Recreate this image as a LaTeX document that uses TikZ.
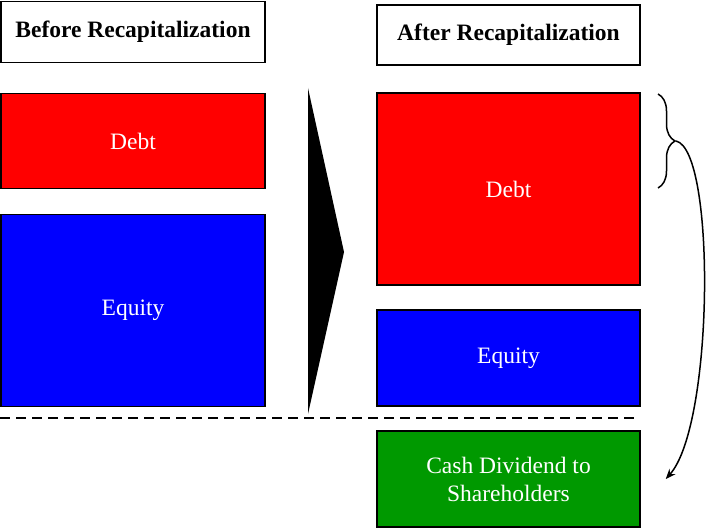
\documentclass[tikz,border=0pt]{standalone}
\usepackage{fontspec}
\setmainfont{Liberation Serif}
\usetikzlibrary{positioning,decorations.pathreplacing,arrows.meta}

\begin{document}
\begin{tikzpicture}[
    x=1pt, y=-1pt,
    header/.style={rectangle, draw, line width=1.5pt, fill=white, minimum width=264pt, minimum height=61pt, font=\fontsize{23.5}{28}\selectfont\bfseries},
    block/.style={rectangle, draw, line width=1.5pt, text=white, minimum width=264pt, align=center, font=\fontsize{23.5}{28}\selectfont},
    debt/.style={block, fill=red},
    equity/.style={block, fill=blue},
    cash/.style={block, fill=green!60!black},
    line/.style={draw, line width=1.5pt, -{Stealth[length=10pt,width=8pt]}}
  ]
    \useasboundingbox (0,0) rectangle (706,529);

    \node [header] (before) at (133,32) {Before Recapitalization};
    \node [debt, minimum height=95pt, below=29.5pt of before] (debtL) {Debt};
    \node [equity, minimum height=192pt, below=24.5pt of debtL] (equityL) {Equity};

    \node [header, minimum width=263pt, minimum height=60pt] (after) at (508.5,35) {After Recapitalization};
    \node [debt, minimum width=263pt, minimum height=192pt, below=26.5pt of after] (debtR) {Debt};
    \node [equity, minimum width=263pt, minimum height=96pt, below=23.5pt of debtR] (equityR) {Equity};
    \node [cash, minimum width=263pt, minimum height=96pt, below=23.5pt of equityR] (dividend) {Cash Dividend to\\Shareholders};

    % big arrow between the two columns
    \fill (308,88) -- (344,252) -- (308,414) -- cycle;

    % waterline
    \draw [line width=1.6pt, dash pattern=on 10pt off 6pt] (0,418) -- (640,418);

    % brace over the new debt
    \coordinate (braceT) at (658,94);
    \coordinate (braceB) at (658,188);
    \draw [line width=1.5pt, decorate, decoration={brace, amplitude=17pt, aspect=0.5}] (braceT) -- (braceB);
    \coordinate (braceTip) at (676,141);

    \path [line] (braceTip) .. controls (716,150) and (714,425) .. ([xshift=25pt]dividend.east);
  \end{tikzpicture}
\end{document}
